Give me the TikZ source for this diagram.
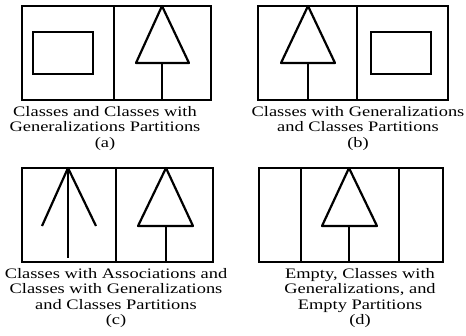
\documentclass[tikz,border=0pt]{standalone}
\usepackage{fontspec}
\setmainfont{Liberation Serif}[FakeStretch=1.27]
\usetikzlibrary{positioning}

\begin{document}
\begin{tikzpicture}[x=1pt, y=-1pt,
  fr/.style={draw, line width=1.1pt},
  sepline/.style={draw, line width=1.6pt},
  gen/.style={draw, line width=2.2pt, line join=round},
  capt/.style={anchor=north, align=center, inner sep=0pt,
               font=\fontsize{14.5}{15.5}\selectfont}]

\useasboundingbox (0,0) rectangle (466,335);

% ── (a) : classes | classes with generalizations ──
\draw[fr] (22,6) rectangle (211,100);
\draw[sepline] (113.7,6) -- (113.7,100);
\draw[fr] (33,32) rectangle (93,74);
\draw[gen] (162,6) -- (189,63) -- (136,63) -- cycle;
\draw[gen] (162,63) -- (162,100);
\node[capt] (capa) at (105,106)
  {Classes and Classes with\\ Generalizations Partitions\\ (a)};

% ── (b) : classes with generalizations | classes ──
\draw[fr] (258,6) rectangle (448,100);
\draw[sepline] (357,6) -- (357,100);
\draw[gen] (308,6) -- (335,63) -- (281,63) -- cycle;
\draw[gen] (308,63) -- (308,100);
\draw[fr] (371,32) rectangle (431,74);
\node[capt] (capb) at (358,106)
  {Classes with Generalizations\\ and Classes Partitions\\ (b)};

% ── (c) : associations | generalizations ──
\draw[fr] (22,168) rectangle (213,262);
\draw[sepline] (116,168) -- (116,262);
\draw[gen] (68,168) -- (68,258);
\draw[gen] (42,226) -- (68,168) -- (96,226);
\draw[gen] (166,168) -- (193,226) -- (138,226) -- cycle;
\draw[gen] (166,226) -- (166,262);
\node[capt] (capc) at (116,268)
  {Classes with Associations and\\ Classes with Generalizations\\ and Classes Partitions\\ (c)};

% ── (d) : empty | generalizations | empty ──
\draw[fr] (259,168) rectangle (443,262);
\draw[sepline] (301,168) -- (301,262);
\draw[sepline] (399,168) -- (399,262);
\draw[gen] (349,168) -- (377,226) -- (322,226) -- cycle;
\draw[gen] (349,226) -- (349,262);
\node[capt] (capd) at (360,268)
  {Empty, Classes with\\ Generalizations, and\\ Empty Partitions\\ (d)};

\end{tikzpicture}
\end{document}
